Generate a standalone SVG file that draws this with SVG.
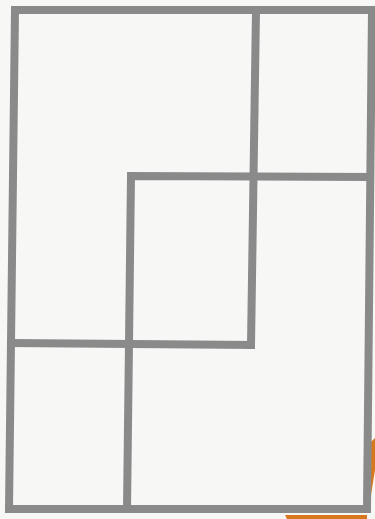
<svg xmlns="http://www.w3.org/2000/svg" width="375" height="519" viewBox="0 0 375 519">
<style>
.ln{fill:none;stroke:#8a8a8a;stroke-width:8;stroke-linejoin:miter;stroke-linecap:square}
.or{fill:#d8781e}
</style>
<rect width="375" height="519" fill="#f7f7f6"/>
<path class="or" d="M370 443 L375 438 L375 470 L371 495 Z"/>
<path class="or" d="M285 515 L367 515 L367 519 L287 519 Z"/>
<g id="outer"><path class="ln" d="M15 10 L372 10 L367 509 L9 509 Z"/></g>
<g id="lines">
<path class="ln" d="M256 10 L251 345"/>
<path class="ln" d="M12 343 L251 345"/>
<path class="ln" d="M370 177 L131 176 L127 509"/>
</g>
</svg>
